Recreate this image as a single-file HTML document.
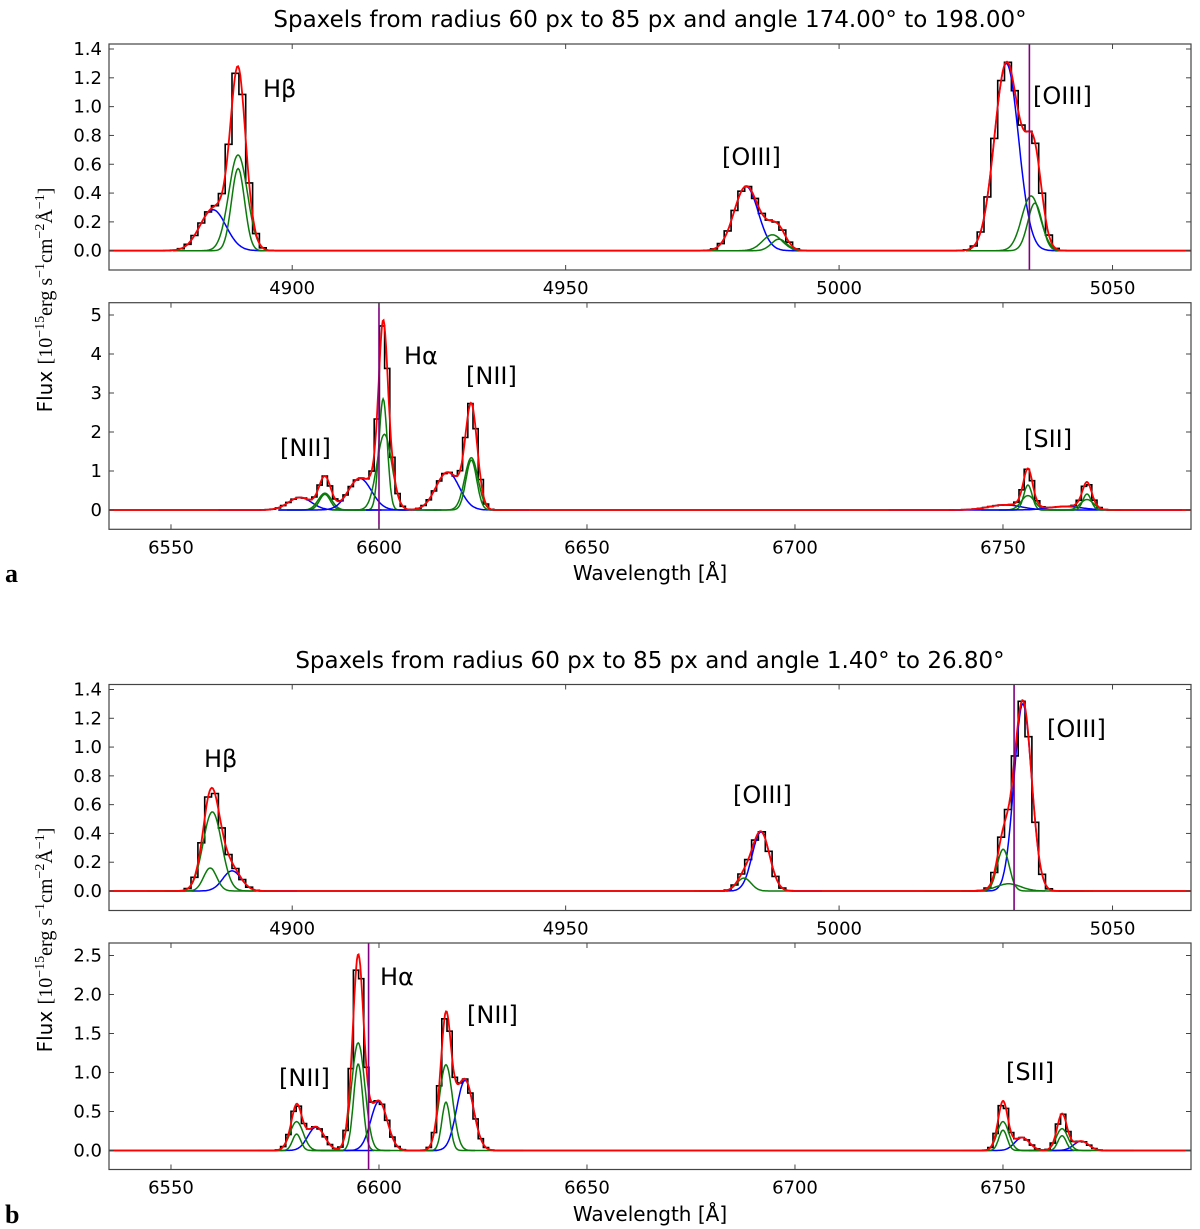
<!DOCTYPE html>
<html><head><meta charset="utf-8">
<style>
body{margin:0;background:#fff;}
svg{display:block;font-family:"DejaVu Sans","Liberation Sans",sans-serif;}
</style></head>
<body>
<svg id="fig" width="1200" height="1229" viewBox="0 0 1200 1229" xmlns="http://www.w3.org/2000/svg">
<rect width="1200" height="1229" fill="#fff"/>
<text x="650" y="27" font-size="23" text-anchor="middle">Spaxels from radius 60 px to 85 px and angle 174.00° to 198.00°</text>
<text x="650" y="668" font-size="23" text-anchor="middle">Spaxels from radius 60 px to 85 px and angle 1.40° to 26.80°</text>
<text x="650" y="580" font-size="20" text-anchor="middle">Wavelength [Å]</text>
<text x="650" y="1221" font-size="20" text-anchor="middle">Wavelength [Å]</text>
<text transform="translate(52,300) rotate(-90)" font-size="20" text-anchor="middle">Flux <tspan font-family="Liberation Serif,serif">[10<tspan font-size="14" dy="-8">−15</tspan><tspan dy="8">erg s</tspan><tspan font-size="14" dy="-8">−1</tspan><tspan dy="8">cm</tspan><tspan font-size="14" dy="-8">−2</tspan><tspan dy="8">Å</tspan><tspan font-size="14" dy="-8">−1</tspan><tspan dy="8">]</tspan></tspan></text>
<text transform="translate(52,940) rotate(-90)" font-size="20" text-anchor="middle">Flux <tspan font-family="Liberation Serif,serif">[10<tspan font-size="14" dy="-8">−15</tspan><tspan dy="8">erg s</tspan><tspan font-size="14" dy="-8">−1</tspan><tspan dy="8">cm</tspan><tspan font-size="14" dy="-8">−2</tspan><tspan dy="8">Å</tspan><tspan font-size="14" dy="-8">−1</tspan><tspan dy="8">]</tspan></tspan></text>
<text x="5" y="582" font-size="26" font-weight="bold" font-family="Liberation Serif,serif">a</text>
<text x="5" y="1223" font-size="26" font-weight="bold" font-family="Liberation Serif,serif">b</text>
</svg>
<script>
// ---- data: gaussian component fits (center Å, amplitude, sigma Å, kind) ----
const p1Centers=[4885.5,4890.1,4890.1,4983.0,4987.8,4989.0,5030.6,5035.1,5035.8];
const p1Amps=[0.284,0.665,0.57,0.446,0.11,0.08,1.30,0.38,0.33];
const p1Sigmas=[2.4,1.7,1.2,2.2,1.8,1.4,2.2,1.7,1.3];
const p1Kinds=['b','g','g','b','g','g','b','g','g'];
const p2Centers=[6581.0,6587.0,6587.0,6595.4,6601.0,6601.3,6616.5,6622.2,6622.2,6750.5,6756.0,6756.0,6765.0,6770.2,6770.2];
const p2Amps=[0.32,0.43,0.40,0.81,2.85,1.94,0.97,1.34,1.28,0.13,0.64,0.37,0.09,0.41,0.27];
const p2Sigmas=[2.8,1.6,1.3,2.8,1.0,1.8,2.8,1.6,1.3,4.0,1.0,1.6,4.0,1.0,1.6];
const p2Kinds=['b','g','g','b','g','g','b','g','g','b','g','g','b','g','g'];
const p3Centers=[4889.0,4885.4,4885.0,4985.7,4982.6,5033.6,5030.0,5031.0];
const p3Amps=[0.14,0.55,0.16,0.41,0.09,1.30,0.29,0.05];
const p3Sigmas=[1.7,1.7,1.2,1.6,1.3,1.6,1.1,2.2];
const p3Kinds=['b','g','g','b','g','b','g','g'];
const p4Centers=[6584.9,6580.2,6580.2,6600.0,6595.0,6595.0,6620.7,6616.1,6616.1,6754.6,6750.0,6750.0,6768.8,6764.2,6764.2];
const p4Amps=[0.30,0.37,0.21,0.63,1.38,1.11,0.90,1.10,0.62,0.165,0.37,0.26,0.12,0.28,0.19];
const p4Sigmas=[2.0,1.6,1.0,2.0,1.6,1.1,2.0,1.6,1.0,1.8,1.4,1.0,1.8,1.4,1.0];
const p4Kinds=['b','g','g','b','g','g','b','g','g','b','g','g','b','g','g'];
const p1YTicks=[0.0,0.2,0.4,0.6,0.8,1.0,1.2,1.4];
const p2YTicks=[0,1,2,3,4,5];
const p4YTicks=[0.0,0.5,1.0,1.5,2.0,2.5];
const blueXTicks=[4900,4950,5000,5050];
const redXTicks=[6550,6600,6650,6700,6750];
const refLines=[5034.8,6600.0,5032.0,6597.5];

const NS='http://www.w3.org/2000/svg';
const svg=document.getElementById('fig');
function mk(tag,attrs,parent){const e=document.createElementNS(NS,tag);for(const k in attrs)e.setAttribute(k,attrs[k]);(parent||svg).appendChild(e);return e;}

const panels=[
 {id:'a-top',L:109,R:1191,T:44,B:270,x0:4866.5,x1:5064.35,yv0:0,yp0:250.7,yv1:1.4,yp1:49,yt:p1YTicks,xt:blueXTicks,fmt:1,c:p1Centers,a:p1Amps,s:p1Sigmas,k:p1Kinds,ref:refLines[0],
  labels:[['Hβ',263,97],['[OIII]',722,165],['[OIII]',1033,104]]},
 {id:'a-bottom',L:109,R:1191,T:302.7,B:529.3,x0:6535.1,x1:6795.2,yv0:0,yp0:510,yv1:5,yp1:315,yt:p2YTicks,xt:redXTicks,fmt:0,c:p2Centers,a:p2Amps,s:p2Sigmas,k:p2Kinds,ref:refLines[1],
  labels:[['Hα',404,364],['[NII]',466,384],['[NII]',280,456],['[SII]',1024,447]]},
 {id:'b-top',L:109,R:1191,T:684.5,B:910.5,x0:4866.5,x1:5064.35,yv0:0,yp0:891,yv1:1.4,yp1:689.5,yt:p1YTicks,xt:blueXTicks,fmt:1,c:p3Centers,a:p3Amps,s:p3Sigmas,k:p3Kinds,ref:refLines[2],
  labels:[['Hβ',204,767],['[OIII]',733,803],['[OIII]',1047,737]]},
 {id:'b-bottom',L:109,R:1191,T:943,B:1169.5,x0:6535.1,x1:6795.2,yv0:0,yp0:1150.5,yv1:2.5,yp1:955.5,yt:p4YTicks,xt:redXTicks,fmt:1,c:p4Centers,a:p4Amps,s:p4Sigmas,k:p4Kinds,ref:refLines[3],
  labels:[['Hα',380,985],['[NII]',467,1023],['[NII]',279,1086],['[SII]',1006,1080]]}
];

panels.forEach(p=>{
  const X=v=>p.L+(v-p.x0)/(p.x1-p.x0)*(p.R-p.L);
  const Y=v=>p.yp0+(v-p.yv0)/(p.yv1-p.yv0)*(p.yp1-p.yp0);
  const g=mk('g',{});
  
  
  const cid='clip-'+p.id;
  const cp=mk('clipPath',{id:cid},g);mk('rect',{x:p.L,y:p.T,width:p.R-p.L,height:p.B-p.T},cp);
  const plot=mk('g',{'clip-path':'url(#'+cid+')'},g);
  const gauss=(i,x)=>p.a[i]*Math.exp(-0.5*Math.pow((x-p.c[i])/p.s[i],2));
  const total=x=>{let s=0;for(let i=0;i<p.c.length;i++)s+=gauss(i,x);return s;};
  const bw=1.25;let d='';
  for(let x=p.x0-bw;x<p.x1+bw;x+=bw){
    const v=total(x+bw/2);
    d+=(d?'L':'M')+X(x).toFixed(1)+','+Y(v).toFixed(1)+'L'+X(x+bw).toFixed(1)+','+Y(v).toFixed(1);
  }
  const hist=mk('path',{d:d,fill:'none',stroke:'#000','stroke-width':1.6},plot);
  
  
  for(let i=0;i<p.c.length;i++){
    let cd='';
    for(let x=p.c[i]-7*p.s[i];x<=p.c[i]+7*p.s[i];x+=0.2){cd+=(cd?'L':'M')+X(x).toFixed(1)+','+Y(gauss(i,x)).toFixed(1);}
    const comp=mk('path',{d:cd,fill:'none',stroke:p.k[i]==='b'?'#0000ff':'#0b7a0b','stroke-width':1.5},plot);
    
    
  }
  let rd='';
  for(let x=p.x0;x<=p.x1;x+=0.2){rd+=(rd?'L':'M')+X(x).toFixed(1)+','+Y(total(x)).toFixed(1);}
  const fit=mk('path',{d:rd,fill:'none',stroke:'#ff0000','stroke-width':1.8},plot);
  
  
  const rl=mk('line',{x1:X(p.ref),x2:X(p.ref),y1:p.T,y2:p.B,stroke:'#800080','stroke-width':1.6},plot);
  
  
  const fr=mk('rect',{x:p.L,y:p.T,width:p.R-p.L,height:p.B-p.T,fill:'none',stroke:'#444','stroke-width':1.2},g);
  
  
  p.yt.forEach(v=>{
    const y=Y(v);
    mk('line',{x1:p.L,x2:p.L+5,y1:y,y2:y,stroke:'#444'},g);
    mk('line',{x1:p.R,x2:p.R-5,y1:y,y2:y,stroke:'#444'},g);
    const t=mk('text',{x:p.L-7,y:y+6,'font-size':18,'text-anchor':'end'},g);
    t.textContent=v.toFixed(p.fmt);
    
    
  });
  p.xt.forEach(v=>{
    const x=X(v);
    mk('line',{x1:x,x2:x,y1:p.B,y2:p.B-5,stroke:'#444'},g);
    mk('line',{x1:x,x2:x,y1:p.T,y2:p.T+5,stroke:'#444'},g);
    const t=mk('text',{x:x,y:p.B+24,'font-size':18,'text-anchor':'middle'},g);
    t.textContent=String(v);
    
    
  });
  p.labels.forEach(l=>{
    const t=mk('text',{x:l[1],y:l[2],'font-size':24},g);
    t.textContent=l[0];
    
    
  });
});
</script>
</body></html>
